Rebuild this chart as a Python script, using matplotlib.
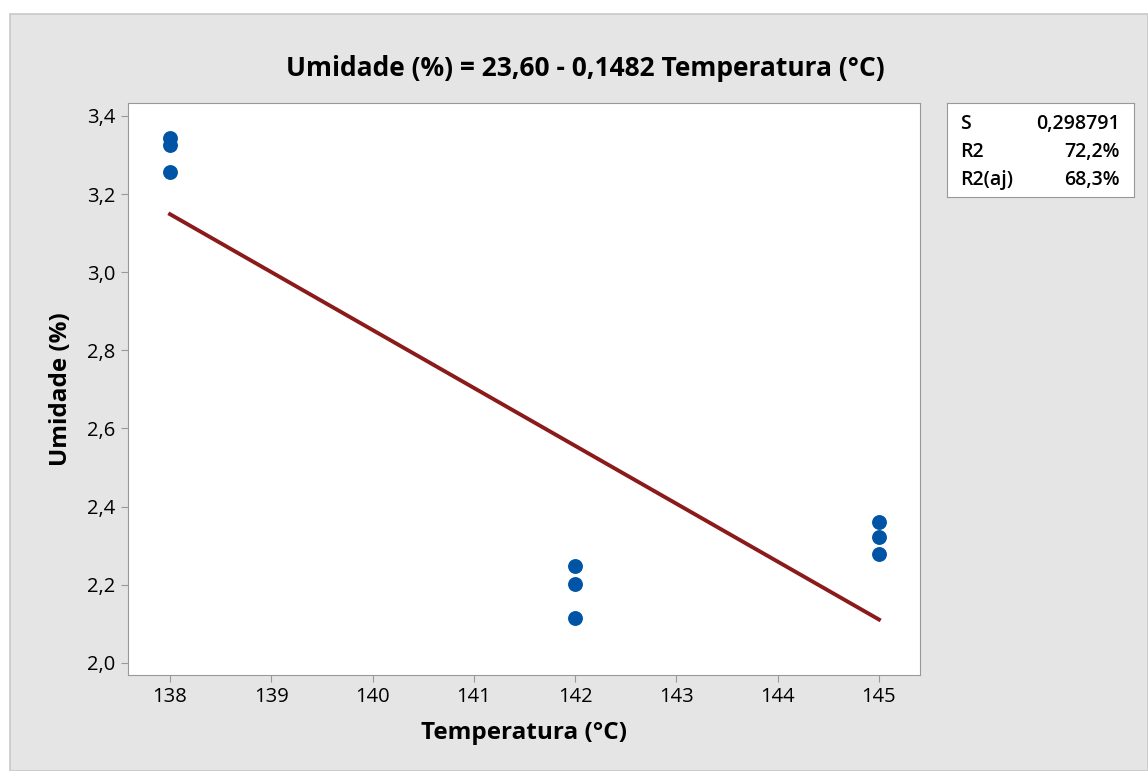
import numpy as np
import matplotlib.pyplot as plt
from matplotlib.patches import Rectangle
from matplotlib.ticker import FuncFormatter

plt.rcParams['font.family'] = ['Open Sans', 'DejaVu Sans']

# observed moisture per drying temperature
temperatura = [138, 138, 138, 142, 142, 142, 145, 145, 145]
umidade = [3.344, 3.326, 3.257, 2.248, 2.202, 2.115, 2.361, 2.322, 2.279]

# fitted regression
intercepto = 23.60
inclinacao = -0.1482
stats_names = ['S', 'R2', 'R2(aj)']
stats_values = ['0,298791', '72,2%', '68,3%']

fig = plt.figure(figsize=(11.48, 7.71), dpi=100)
fig.patch.set_facecolor('white')
fig.patches.append(Rectangle((10 / 1148, 0), 1 - 10 / 1148, 1 - 14 / 771,
                             transform=fig.transFigure, facecolor='#e5e5e5',
                             edgecolor='#c8c8c8', linewidth=1.2, zorder=-10))

ax = fig.add_axes([128 / 1148, 1 - 675 / 771, 792 / 1148, 572 / 771])
ax.set_facecolor('white')

x_fit = np.linspace(min(temperatura), max(temperatura), 50)
ax.plot(x_fit, intercepto + inclinacao * x_fit, color='#8b1a1a', linewidth=2.8, zorder=2)
ax.scatter(temperatura, umidade, s=115, color='#0054a6', zorder=3, linewidths=0)

ax.set_xlim(137.585, 145.405)
ax.set_ylim(1.969, 3.433)
ax.set_xticks(range(138, 146))
ax.set_yticks(np.arange(2.0, 3.41, 0.2))
ax.yaxis.set_major_formatter(FuncFormatter(lambda v, p: f'{v:.1f}'.replace('.', ',')))
ax.tick_params(direction='out', length=5, color='#999999', labelsize=14.5, pad=4)
for lab in ax.get_xticklabels() + ax.get_yticklabels():
    lab.set_fontweight('medium')
for s in ax.spines.values():
    s.set_color('#999999')

ax.set_xlabel('Temperatura (°C)', fontsize=17.5, fontweight='bold', labelpad=10)
ax.set_ylabel('Umidade (%)', fontsize=17.5, fontweight='bold', labelpad=10)
fig.text(585 / 1148, 1 - 68 / 771, 'Umidade (%) = 23,60 - 0,1482 Temperatura (°C)',
         fontsize=19, fontweight='bold', ha='center', va='center')

# summary box on the right
box = fig.add_axes([947 / 1148, 1 - 197 / 771, 187 / 1148, 94 / 771])
box.set_facecolor('white')
box.set_xticks([])
box.set_yticks([])
for s in box.spines.values():
    s.set_color('#999999')
for i, (n, v) in enumerate(zip(stats_names, stats_values)):
    yy = 0.777 - i * 0.298
    box.text(0.07, yy, n, fontsize=14, fontweight='semibold', va='center', ha='left',
             transform=box.transAxes)
    box.text(0.925, yy, v, fontsize=14, fontweight='semibold', va='center', ha='right',
             transform=box.transAxes)

fig.savefig('out.png', dpi=100)
